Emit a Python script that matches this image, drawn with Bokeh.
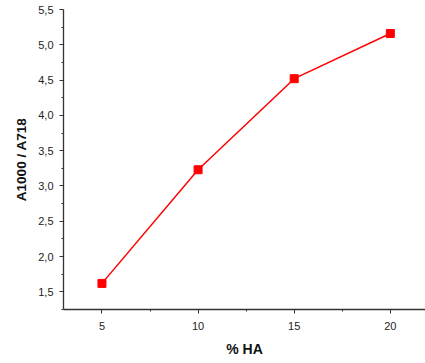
from bokeh.plotting import figure
from bokeh.models import FixedTicker, Range1d
from bokeh.embed import file_html
from bokeh.resources import INLINE

ha_pct = [5, 10, 15, 20]
ratio = [1.62, 3.23, 4.52, 5.16]

x_ticks = [5, 10, 15, 20]
x_minor = [2.5, 7.5, 12.5, 17.5, 22.5]
y_ticks = [1.5, 2.0, 2.5, 3.0, 3.5, 4.0, 4.5, 5.0, 5.5]
y_tick_labels = ["1,5", "2,0", "2,5", "3,0", "3,5", "4,0", "4,5", "5,0", "5,5"]
y_minor = [1.25, 1.75, 2.25, 2.75, 3.25, 3.75, 4.25, 4.75, 5.25]

p = figure(width=425, height=363, output_backend="svg", toolbar_location=None,
           x_range=Range1d(3, 21.83), y_range=Range1d(1.25, 5.5),
           min_border_top=9, min_border_right=0, min_border_left=63, min_border_bottom=54)
p.outline_line_color = None
p.grid.grid_line_color = None
p.background_fill_color = "white"
p.border_fill_color = "white"

p.line(ha_pct, ratio, line_color="#ff0000", line_width=1.5)
p.scatter(ha_pct, ratio, marker="square", size=8, fill_color="#ff0000", line_color="#ff0000")

p.xaxis.ticker = FixedTicker(ticks=x_ticks, minor_ticks=x_minor)
p.yaxis.ticker = FixedTicker(ticks=y_ticks, minor_ticks=y_minor)
p.yaxis.major_label_overrides = {t: l for t, l in zip(y_ticks, y_tick_labels)}

for ax in (p.xaxis[0], p.yaxis[0]):
    ax.axis_line_color = "#333333"
    ax.axis_line_width = 1.3
    ax.major_tick_line_color = "#333333"
    ax.minor_tick_line_color = "#333333"
    ax.major_tick_in = 0
    ax.major_tick_out = 4
    ax.minor_tick_in = 0
    ax.minor_tick_out = 2
    ax.major_label_text_font = "Liberation Sans"
    ax.major_label_text_font_size = "11px"
    ax.major_label_text_color = "#222222"
    ax.major_label_standoff = 6
    ax.axis_label_text_font = "Liberation Sans"
    ax.axis_label_text_font_style = "bold"
    ax.axis_label_text_color = "#111111"

p.xaxis.axis_label = "% HA"
p.yaxis.axis_label = "A1000 / A718"
p.xaxis.axis_label_text_font_size = "14px"
p.yaxis.axis_label_text_font_size = "13.5px"
p.xaxis.major_label_standoff = 8
p.xaxis.axis_label_standoff = 8
p.yaxis.axis_label_standoff = 6

open("out.html", "w").write(file_html(p, INLINE))
